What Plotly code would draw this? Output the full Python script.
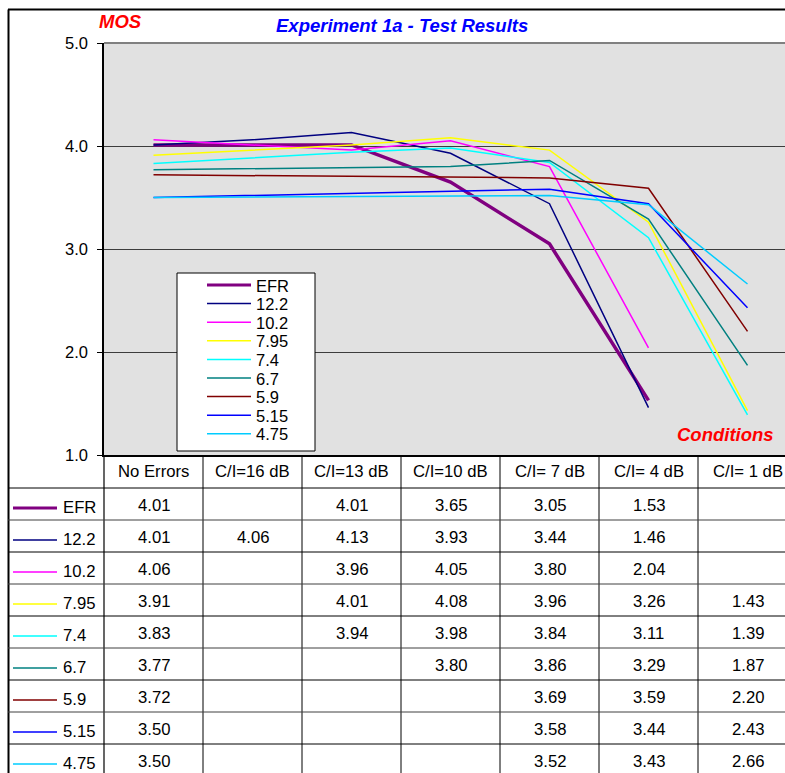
import plotly.graph_objects as go

# ---------------- data ----------------
categories = ["No Errors", "C/I=16 dB", "C/I=13 dB", "C/I=10 dB",
              "C/I= 7 dB", "C/I= 4 dB", "C/I= 1 dB"]
series_names = ["EFR", "12.2", "10.2", "7.95", "7.4", "6.7", "5.9", "5.15", "4.75"]

efr   = [4.01, None, 4.01, 3.65, 3.05, 1.53, None]
r12_2 = [4.01, 4.06, 4.13, 3.93, 3.44, 1.46, None]
r10_2 = [4.06, None, 3.96, 4.05, 3.80, 2.04, None]
r7_95 = [3.91, None, 4.01, 4.08, 3.96, 3.26, 1.43]
r7_4  = [3.83, None, 3.94, 3.98, 3.84, 3.11, 1.39]
r6_7  = [3.77, None, None, 3.80, 3.86, 3.29, 1.87]
r5_9  = [3.72, None, None, None, 3.69, 3.59, 2.20]
r5_15 = [3.50, None, None, None, 3.58, 3.44, 2.43]
r4_75 = [3.50, None, None, None, 3.52, 3.43, 2.66]

y_ticks = [1, 2, 3, 4, 5]
y_tick_labels = ["1.0", "2.0", "3.0", "4.0", "5.0"]

series_values = [efr, r12_2, r10_2, r7_95, r7_4, r6_7, r5_9, r5_15, r4_75]

# ---------------- styles ----------------
colors = ["#800080", "#000080", "#FF00FF", "#FFFF00", "#00FFFF",
          "#008080", "#800000", "#0000FF", "#00CCFF"]
widths = [3.5, 1.5, 1.5, 1.5, 1.5, 1.5, 1.5, 1.5, 1.5]
key_widths = [3.0, 1.5, 1.5, 1.5, 1.5, 1.5, 1.5, 1.5, 1.5]

FONT = "Arial, Liberation Sans, sans-serif"
W, H = 785, 773
L, R, T, B = 104, 785, 43, 455
TXT = 16.7
TITLE = 18.5


def px_x(x):
    return (x - L) / (R - L)


def px_y(y):
    return (B - y) / (B - T)


fig = go.Figure()
for name, vals, c, w in zip(series_names, series_values, colors, widths):
    fig.add_trace(go.Scatter(
        x=categories, y=vals, name=name, mode="lines",
        line=dict(color=c, width=w), connectgaps=True,
        showlegend=False, hoverinfo="x+y+name",
    ))

shapes = []
annotations = []
line_col = "#000000"

# plot top border (gray)
shapes.append(dict(type="line", xref="paper", yref="paper", x0=0, x1=1, y0=1, y1=1,
                   line=dict(color="#808080", width=2)))

# outer chart border (top and left)
shapes.append(dict(type="line", xref="paper", yref="paper",
                   x0=px_x(8), x1=1.01, y0=px_y(9.5), y1=px_y(9.5),
                   line=dict(color="#000000", width=2)))
shapes.append(dict(type="line", xref="paper", yref="paper",
                   x0=px_x(8.5), x1=px_x(8.5), y0=px_y(9.5), y1=px_y(H + 5),
                   line=dict(color="#000000", width=2)))

# table: left edge of data columns continues under plot axis
shapes.append(dict(type="line", xref="paper", yref="paper",
                   x0=0, x1=0, y0=0, y1=px_y(H + 5),
                   line=dict(color=line_col, width=1.2)))
# table: vertical column separators at category boundaries
for k in range(1, len(categories)):
    shapes.append(dict(type="line", xref="x", yref="paper",
                       x0=k - 0.5, x1=k - 0.5, y0=0, y1=px_y(H + 5),
                       line=dict(color=line_col, width=1)))
# table: horizontal row separators
row_top = 488
row_h = 32
for i in range(len(series_names)):
    yy = row_top + row_h * i
    shapes.append(dict(type="line", xref="paper", yref="paper",
                       x0=px_x(8), x1=1.01, y0=px_y(yy), y1=px_y(yy),
                       line=dict(color=line_col if i % 2 == 0 else "#404040", width=1)))

# table header
for j, cat in enumerate(categories):
    annotations.append(dict(x=j, y=px_y(471), xref="x", yref="paper", text=cat,
                            showarrow=False, xanchor="center", yanchor="middle",
                            font=dict(family=FONT, size=TXT, color="#000000")))

# table rows: key, name, values
for i, (name, vals, c, kw) in enumerate(zip(series_names, series_values, colors, key_widths)):
    yc = row_top + row_h * i
    shapes.append(dict(type="line", xref="paper", yref="paper",
                       x0=px_x(13), x1=px_x(57), y0=px_y(yc + 20), y1=px_y(yc + 20),
                       line=dict(color=c, width=kw)))
    annotations.append(dict(x=px_x(61), y=px_y(yc + 19), xref="paper", yref="paper",
                            text=name, showarrow=False, xanchor="left", yanchor="middle",
                            font=dict(family=FONT, size=TXT, color="#000000")))
    for j, v in enumerate(vals):
        if v is None:
            continue
        annotations.append(dict(x=j, y=px_y(yc + 17.5), xref="x", yref="paper",
                                text=f"{v:.2f}", showarrow=False,
                                xanchor="center", yanchor="middle",
                                font=dict(family=FONT, size=TXT, color="#000000")))

# legend box (drawn like the original's boxed legend)
shapes.append(dict(type="rect", xref="paper", yref="paper",
                   x0=px_x(177), x1=px_x(315), y0=px_y(273), y1=px_y(451),
                   fillcolor="#FFFFFF", line=dict(color="#000000", width=1)))
for i, (name, c, kw) in enumerate(zip(series_names, colors, key_widths)):
    yy = 285 + 18.6 * i
    shapes.append(dict(type="line", xref="paper", yref="paper",
                       x0=px_x(207), x1=px_x(251), y0=px_y(yy), y1=px_y(yy),
                       line=dict(color=c, width=kw)))
    annotations.append(dict(x=px_x(254), y=px_y(yy + 0.5), xref="paper", yref="paper",
                            text=name, showarrow=False, xanchor="left", yanchor="middle",
                            font=dict(family=FONT, size=16.5, color="#000000")))

# titles
annotations.append(dict(x=px_x(402), y=px_y(25), xref="paper", yref="paper",
                        text="Experiment 1a - Test Results", showarrow=False,
                        xanchor="center", yanchor="middle",
                        font=dict(family=FONT, size=TITLE, color="#0000FF",
                                  weight="bold", style="italic")))
annotations.append(dict(x=px_x(120), y=px_y(22), xref="paper", yref="paper",
                        text="MOS", showarrow=False, xanchor="center", yanchor="middle",
                        font=dict(family=FONT, size=TITLE, color="#FF0000",
                                  weight="bold", style="italic")))
annotations.append(dict(x=px_x(776), y=px_y(434), xref="paper", yref="paper",
                        text="Conditions", showarrow=False, xanchor="right", yanchor="middle",
                        font=dict(family=FONT, size=TITLE, color="#FF0000",
                                  weight="bold", style="italic")))

fig.update_layout(
    width=W, height=H, autosize=False,
    margin=dict(l=L, r=W - R, t=T, b=H - B, pad=0),
    paper_bgcolor="#FFFFFF", plot_bgcolor="#E1E1E1",
    showlegend=False,
    shapes=shapes, annotations=annotations,
    xaxis=dict(type="category", categoryorder="array", categoryarray=categories,
               range=[-0.5, -0.5 + (R - L) / 99.0],
               showticklabels=False, ticks="", showgrid=False, zeroline=False,
               showline=True, linecolor="#000000", linewidth=1.5, fixedrange=True),
    yaxis=dict(range=[1, 5], tickvals=y_ticks, ticktext=y_tick_labels,
               ticks="outside", ticklen=5, tickcolor="#000000", tickwidth=1,
               ticklabelstandoff=6,
               tickfont=dict(family=FONT, size=16.5, color="#000000"),
               showgrid=True, gridcolor="#3C3C3C", gridwidth=1, zeroline=False,
               showline=True, linecolor="#000000", linewidth=1.5, fixedrange=True),
)

fig.write_html(
    "out.html",
    config={"displayModeBar": False},
    post_script=("document.body.style.margin='0';"
                 "document.body.style.overflow='hidden';"
                 "document.documentElement.style.overflow='hidden';"),
)
